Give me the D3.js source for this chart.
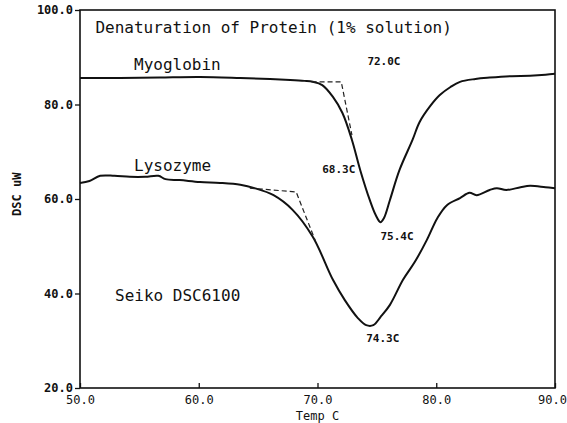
<!DOCTYPE html>
<html>
<head>
<meta charset="utf-8">
<script src="https://cdn.jsdelivr.net/npm/d3@7"></script>
<style>
  body { margin: 0; background: #fff; }
  text { font-family: "DejaVu Sans Mono", "Liberation Mono", monospace; fill: #111; }
</style>
</head>
<body>
<div id="chart"></div>
<script>
// temperature (C), heat flow (uW)
const myoglobin = [
  [50.0, 85.6], [53.4, 85.6], [56.7, 85.7], [60.1, 85.8], [63.5, 85.6], [66.0, 85.4],
  [67.7, 85.2], [68.9, 85.0], [69.6, 84.8], [70.4, 84.1], [71.3, 81.6], [72.1, 78.2],
  [72.9, 72.5], [73.6, 66.1], [74.4, 59.8], [74.9, 56.6], [75.3, 55.1], [75.6, 56.0],
  [76.1, 59.8], [76.9, 66.1], [78.0, 72.5], [78.6, 76.3], [79.5, 79.7], [80.3, 82.0],
  [81.2, 83.7], [82.0, 84.8], [83.3, 85.4], [84.5, 85.7], [86.2, 86.0], [87.9, 86.1],
  [89.2, 86.3], [90.0, 86.5]
];
const lysozyme = [
  [50.0, 63.4], [50.8, 63.8], [51.7, 64.9], [52.9, 64.9], [54.2, 64.7], [55.5, 64.7],
  [56.6, 64.9], [57.2, 64.2], [58.4, 64.0], [60.1, 63.6], [61.8, 63.4], [63.5, 63.0],
  [64.7, 62.3], [66.3, 60.8], [67.9, 57.7], [69.6, 52.0], [71.3, 42.9], [72.3, 38.6],
  [73.4, 34.8], [74.1, 33.3], [74.7, 33.3], [75.3, 35.0], [76.1, 37.6], [77.2, 42.9],
  [78.2, 46.7], [79.2, 51.3], [80.1, 56.0], [80.9, 58.7], [82.0, 60.2], [82.8, 61.3],
  [83.4, 60.8], [84.5, 61.9], [85.1, 62.3], [85.9, 61.9], [87.1, 62.5], [87.9, 62.8],
  [89.2, 62.5], [90.0, 62.3]
];
// onset construction lines
const myoOnset = [[69.5, 84.8], [72.0, 84.8], [72.9, 73.5]];
const lysoOnset = [[64.3, 62.3], [68.2, 61.5], [69.8, 51.3]];

const xTicks = [50, 60, 70, 80, 90];
const yTicks = [20, 40, 60, 80, 100];

// text annotations: [label, temp, value]
const notes = [
  ['Denaturation of Protein (1% solution)', 51.3, 95.1],
  ['Myoglobin', 54.55, 87.4],
  ['Lysozyme', 54.55, 66.0],
  ['Seiko DSC6100', 52.95, 38.4]
];
const peakNotes = [
  ['72.0C', 74.2, 88.4],
  ['68.3C', 70.4, 65.5],
  ['75.4C', 75.3, 51.3],
  ['74.3C', 74.1, 29.7]
];

const W = 567, H = 423;
const margin = { top: 10, right: 12, bottom: 35, left: 80 };
const width = W - margin.left - margin.right;
const height = H - margin.top - margin.bottom;

const svg = d3.select('#chart').append('svg')
  .attr('width', W)
  .attr('height', H);
const g = svg.append('g')
  .attr('transform', 'translate(' + margin.left + ',' + margin.top + ')');

const x = d3.scaleLinear().domain([50, 90]).range([0, width]);
const y = d3.scaleLinear().domain([20, 100]).range([height, 0]);

// y axis (ticks outward)
const yAxis = g.append('g')
  .call(d3.axisLeft(y).tickValues(yTicks).tickSize(5).tickPadding(2).tickFormat(d3.format('.1f')));
yAxis.select('.domain').remove();
yAxis.selectAll('line').attr('stroke', '#111').attr('stroke-width', 1.3);
yAxis.selectAll('text').attr('font-size', 12).attr('font-weight', 'bold')
  .style('font-family', '"DejaVu Sans Mono", monospace');

// x axis (ticks inward)
const xAxis = g.append('g')
  .attr('transform', 'translate(0,' + height + ')')
  .call(d3.axisBottom(x).tickValues(xTicks).tickSize(-5).tickPadding(7).tickFormat(d3.format('.1f')));
xAxis.select('.domain').remove();
xAxis.selectAll('line').attr('stroke', '#111').attr('stroke-width', 1.3);
xAxis.selectAll('text').attr('font-size', 12)
  .style('font-family', '"DejaVu Sans Mono", monospace');
xAxis.selectAll('.tick').filter(d => d === 90).select('text').attr('dx', -3);

// frame
g.append('rect')
  .attr('width', width).attr('height', height)
  .attr('fill', 'none').attr('stroke', '#111').attr('stroke-width', 1.6);

svg.append('text')
  .attr('x', margin.left + width / 2).attr('y', H - 3)
  .attr('text-anchor', 'middle').attr('font-size', 12)
  .text('Temp C');

svg.append('text')
  .attr('transform', 'translate(21,' + (margin.top + y(61)) + ') rotate(-90)')
  .attr('text-anchor', 'middle').attr('font-size', 12).attr('font-weight', 'bold')
  .text('DSC uW');

const line = d3.line()
  .x(d => x(d[0]))
  .y(d => y(d[1]))
  .curve(d3.curveCatmullRom);

[myoglobin, lysozyme].forEach(s => {
  g.append('path')
    .datum(s)
    .attr('fill', 'none')
    .attr('stroke', '#111')
    .attr('stroke-width', 2)
    .attr('d', line);
});

const straight = d3.line().x(d => x(d[0])).y(d => y(d[1]));
[myoOnset, lysoOnset].forEach(s => {
  g.append('path')
    .datum(s)
    .attr('fill', 'none')
    .attr('stroke', '#222')
    .attr('stroke-width', 1.2)
    .attr('stroke-dasharray', '5,3')
    .attr('d', straight);
});

g.selectAll('.note')
  .data(notes)
  .join('text')
  .attr('class', 'note')
  .attr('x', d => x(d[1]))
  .attr('y', d => y(d[2]))
  .attr('font-size', 16)
  .text(d => d[0]);

g.selectAll('.peak')
  .data(peakNotes)
  .join('text')
  .attr('class', 'peak')
  .attr('x', d => x(d[1]))
  .attr('y', d => y(d[2]))
  .attr('font-size', 11)
  .attr('font-weight', 'bold')
  .text(d => d[0]);
</script>
</body>
</html>
